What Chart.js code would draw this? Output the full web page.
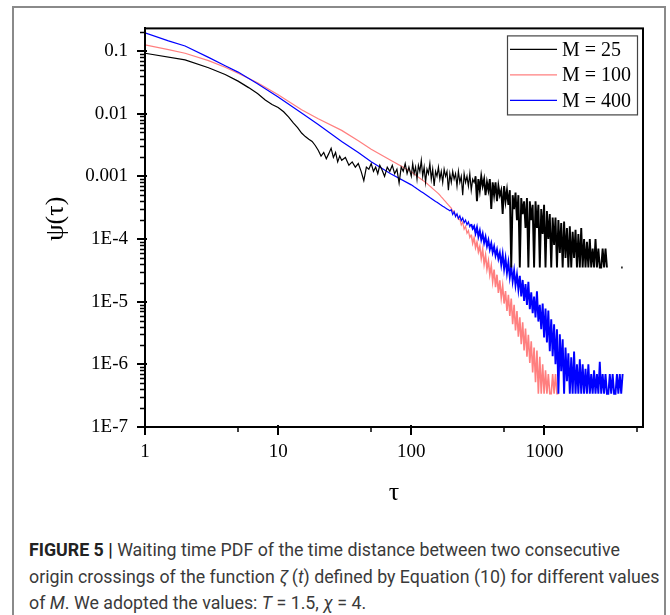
<!DOCTYPE html>
<html><head><meta charset="utf-8">
<script src="https://cdn.jsdelivr.net/npm/chart.js@4.4.1/dist/chart.umd.min.js"></script>
<style>
html,body{margin:0;padding:0;background:#fff;}
#wrap{position:relative;width:670px;height:615px;overflow:hidden;background:#fff;}
#frame{position:absolute;left:12px;top:6px;width:654px;height:640px;border:2px solid #8a8a8a;box-sizing:border-box;}
#c{position:absolute;left:0;top:0;}
#cap{position:absolute;left:29px;top:537px;width:636px;font-family:"Roboto","Liberation Sans",sans-serif;font-size:17.8px;line-height:26.5px;color:#3a3a3a;white-space:nowrap;letter-spacing:0;}
#cap b{color:#222;}
</style></head>
<body><div id="wrap">
<div id="frame"></div>
<canvas id="c" width="670" height="520"></canvas>
<div id="cap"><b>FIGURE 5 |</b> Waiting time PDF of the time distance between two consecutive<br>origin crossings of the function <i>ζ</i>&thinsp;(<i>t</i>) defined by Equation (10) for different values<br>of <i>M</i>. We adopted the values: <i>T</i> = 1.5, <i>χ</i> = 4.</div>
</div>
<script>
// ---------- data ----------
const seriesLabels = ['M = 25', 'M = 100', 'M = 400'];

// low-τ part of each curve
const tau25Head = [1,2,3,4,5,6,7,8,9,10,11,12,13,14,15,16,17,18,19,20,
 21,22,23,24,25,26,27,28,29,30,32,34,36,38,40,42,44,46,48,50,52,54,56,58,60,63,66,69,72,75,78,81,84,87,90,93,96];
const psi25Head = [0.092,0.072,0.054,0.042,0.033,0.026,0.021,0.0165,0.014,0.0125,0.0107,0.0088,0.0071,0.0060,0.0049,0.0043,0.0039,0.0036,0.0031,0.0026,
 0.0021,0.0024,0.0019,0.0023,0.0028,0.0020,0.0024,0.0017,0.0021,0.0018,
 0.0020,0.0015,0.0017,0.0014,0.0016,0.0012,0.00085,0.0014,0.0013,0.0016,0.0012,0.0014,0.0011,0.0015,0.0013,
 0.0010,0.0014,0.0012,0.0015,0.0011,0.0013,0.00078,0.0014,0.0012,0.0016,0.0011,0.0014];

const tau100Head = [1,1.5,2,3,4,5,7,10,15,20,30,40,50,70];
const psi100Head = [0.125,0.105,0.092,0.070,0.055,0.044,0.031,0.020,0.0115,0.0083,0.0054,0.0037,0.0027,0.0018];

const tau400Head = [1,1.5,2,3,4,5,7,10,15,20,30,40,50,70];
const psi400Head = [0.195,0.145,0.12,0.079,0.058,0.046,0.030,0.0185,0.0102,0.0067,0.0036,0.0024,0.0017,0.00110];

// high-τ part, on a shared τ grid
const tauTail = [100,102.5,105,107.7,110.4,113.1,116,118.9,121.8,124.9,
 128,131.2,134.5,137.9,141.3,144.8,148.5,152.2,156,159.9,
 163.9,168,172.2,176.5,180.9,185.4,190,194.8,199.7,204.7,
 209.8,215,220.4,225.9,231.6,237.4,243.3,249.4,255.6,262,
 268.5,275.2,282.1,289.2,296.4,303.8,311.4,319.2,327.2,335.4,
 343.8,352.4,361.2,370.2,379.5,388.9,398.7,408.6,418.8,429.3,
 440.1,451.1,462.3,473.9,485.7,497.9,510.3,523.1,536.2,549.6,
 563.3,577.4,591.8,606.6,621.8,637.4,653.3,669.6,686.4,703.5,
 721.1,739.1,757.6,776.6,796,815.9,836.3,857.2,878.6,900.6,
 923.1,946.2,969.9,994.1,1019,1044,1070,1097,1125,1153,
 1182,1211,1242,1273,1305,1337,1371,1405,1440,1476,
 1513,1551,1590,1629,1670,1712,1755,1799,1844,1890,
 1937,1985,2035,2086,2138,2192,2246,2303,2360,2419,
 2480,2542,2605,2670,2737,2806,2876,2948,3021,3097,
 3174,3254,3335,3418,3504,3591,3681,3773,3867];

const psi25Tail = [0.0010,0.0016,0.0011,0.0014,0.0009,0.0015,0.0012,0.0018,0.0010,0.0014,
 0.0008,0.0013,0.0011,0.0016,0.0009,0.0013,0.0007,0.0012,0.0010,0.0014,
 0.0009,0.0012,0.0008,0.0013,0.0010,0.0012,0.0006,0.0011,0.0008,0.0012,
 0.0009,0.0011,0.0007,0.0012,0.0008,0.0010,0.0005,0.0011,0.0008,0.0010,
 0.0007,0.0011,0.0006,0.0009,0.0008,0.0010,0.0004,0.0009,0.0006,0.0010,
 0.0007,0.0009,0.0005,0.0008,0.0006,0.0009,0.0003,0.0008,0.0005,0.0008,
 0.0004,0.0007,0.0005,0.0006,0.00025,0.0007,0.0004,0.0006,0.00035,0.0006,
 0.000035,0.0005,0.0003,0.00055,0.0002,0.0005,0.000035,0.00045,0.00025,0.0004,
 0.00015,0.00045,0.000035,0.0004,0.0002,0.00035,0.000035,0.0004,0.00015,0.00035,
 0.000035,0.0003,0.00012,0.00035,0.000035,0.00028,0.0001,0.00025,0.000035,0.00022,
 0.00008,0.00022,0.000035,0.0002,0.00006,0.00018,0.000035,0.00019,0.00005,0.00015,
 0.000035,0.00016,0.000035,0.00013,0.00005,0.00014,0.000035,0.00012,0.000035,0.00015,
 0.000035,0.0001,0.000035,0.00009,0.000035,0.0001,0.000035,0.00007,0.000035,0.0001,
 0.000035,0.00007,0.000035,0.000035,0.00007,0.000035,0.00007,0.000035,null,null,
 null,null,null,null,null,null,null,0.000035,0.000035];

const psi100Tail = [1.18e-3,1.14e-3,1.09e-3,1.05e-3,1.01e-3,9.70e-4,9.33e-4,8.97e-4,8.63e-4,8.30e-4,
 7.98e-4,7.66e-4,7.31e-4,6.98e-4,6.67e-4,6.37e-4,6.08e-4,5.81e-4,5.55e-4,5.30e-4,
 4.99e-4,4.70e-4,4.44e-4,4.18e-4,3.94e-4,3.71e-4,3.49e-4,3.29e-4,3.10e-4,2.75e-4,
 2.80e-4,2.37e-4,2.41e-4,2.04e-4,2.08e-4,1.67e-4,1.86e-4,1.43e-4,1.59e-4,1.23e-4,
 1.36e-4,1.05e-4,1.17e-4,8.57e-5,1.04e-4,7.31e-5,8.89e-5,6.24e-5,7.59e-5,4.90e-5,
 6.76e-5,3.98e-5,5.50e-5,3.31e-5,4.47e-5,2.69e-5,3.72e-5,2.09e-5,3.24e-5,1.70e-5,
 2.69e-5,1.38e-5,2.19e-5,1.15e-5,1.78e-5,9.33e-6,1.48e-5,7.08e-6,1.29e-5,5.89e-6,
 1.12e-5,4.37e-6,8.91e-6,3.47e-6,7.08e-6,2.75e-6,5.62e-6,2.09e-6,4.68e-6,1.66e-6,
 3.72e-6,1.32e-6,2.95e-6,1.05e-6,2.34e-6,7.41e-7,1.86e-6,5.2e-7,1.66e-6,3.4e-7,
 1.32e-6,3.4e-7,1.0e-6,3.4e-7,8.0e-7,3.4e-7,7.0e-7,3.4e-7,3.4e-7,7.0e-7,
 3.4e-7,7.0e-7,3.4e-7,3.4e-7];

const psi400Tail = [7.30e-4,7.05e-4,6.79e-4,6.56e-4,6.32e-4,6.11e-4,5.89e-4,5.69e-4,5.50e-4,5.30e-4,
 5.11e-4,4.93e-4,4.75e-4,4.58e-4,4.43e-4,4.28e-4,4.12e-4,3.97e-4,3.84e-4,3.70e-4,
 3.57e-4,3.46e-4,3.34e-4,3.23e-4,3.12e-4,3.02e-4,2.92e-4,2.82e-4,2.93e-4,2.46e-4,
 2.72e-4,2.28e-4,2.52e-4,2.12e-4,2.34e-4,1.96e-4,2.17e-4,1.82e-4,2.01e-4,1.69e-4,
 1.87e-4,1.57e-4,1.73e-4,1.46e-4,1.60e-4,1.23e-4,1.53e-4,1.09e-4,1.36e-4,9.73e-5,
 1.21e-4,8.65e-5,1.08e-4,7.69e-5,9.57e-5,6.85e-5,8.51e-5,6.10e-5,7.57e-5,5.42e-5,
 6.75e-5,4.82e-5,6.00e-5,3.89e-5,5.71e-5,3.34e-5,4.91e-5,2.88e-5,4.23e-5,2.47e-5,
 3.64e-5,2.13e-5,3.13e-5,1.83e-5,2.69e-5,1.57e-5,2.59e-5,1.21e-5,2.22e-5,1.03e-5,
 1.91e-5,8.87e-6,2.07e-5,7.60e-6,1.41e-5,6.53e-6,1.21e-5,5.61e-6,1.46e-5,4.81e-6,
 8.89e-6,3.63e-6,9.33e-6,2.69e-6,7.76e-6,2.24e-6,7.24e-6,1.62e-6,5.25e-6,1.35e-6,
 4.37e-6,1.0e-6,3.63e-6,3.4e-7,3.02e-6,7.76e-7,2.51e-6,3.4e-7,1.86e-6,5.4e-7,
 1.5e-6,3.4e-7,1.3e-6,3.4e-7,1.6e-6,3.4e-7,1.0e-6,3.4e-7,1.2e-6,3.4e-7,
 1.0e-6,3.4e-7,8.5e-7,3.4e-7,1.0e-6,3.4e-7,7.0e-7,3.4e-7,8.0e-7,3.4e-7,
 7.0e-7,3.4e-7,1.1e-6,3.4e-7,7.0e-7,3.4e-7,7.0e-7,3.4e-7,3.4e-7,7.0e-7,
 3.4e-7,7.0e-7,3.4e-7,3.4e-7,7.0e-7,3.4e-7,7.0e-7,3.4e-7,7.0e-7];

const xMajorTicks = [1, 10, 100, 1000];
const xMajorLabels = ['1', '10', '100', '1000'];
const xMinorTicks = [5, 50, 500, 5000];
const yMajorTicks = [1e-7, 1e-6, 1e-5, 1e-4, 1e-3, 1e-2, 1e-1];
const yMajorLabels = ['1E-7', '1E-6', '1E-5', '1E-4', '0.001', '0.01', '0.1'];
const yMinorMultipliers = [2,3,4,5,6,7,8,9];
const xRange = [1, 5500];
const yRange = [1e-7, 0.229];
const xTitle = 'τ';
const yTitle = 'ψ(τ)';

// ---------- chart ----------
const SERIF = '"Liberation Serif","Times New Roman",serif';
const colors = ['#000000', '#ff7f7f', '#0000ff'];
const pts = (headT, headV, tailV) => {
  const out = headT.map((x, i) => ({x: x, y: headV[i]}));
  tailV.forEach((v, i) => out.push({x: tauTail[i], y: v}));
  return out;
};
// thin line for the smooth part, denser stroke where the curve turns noisy
const noisyWidth = (thin, thick, from) => ({borderWidth: c => (c.p0.parsed.x >= from ? thick : thin)});

const yMinorTicks = [];
yMajorTicks.forEach(d => yMinorMultipliers.forEach(m => { const v = d * m; if (v <= yRange[1]) yMinorTicks.push(v); }));

const tickPlugin = {
  id: 'ticksFrame',
  afterDraw(chart) {
    const {ctx, chartArea: a, scales: {x, y}} = chart;
    ctx.save();
    ctx.strokeStyle = '#000';
    ctx.lineWidth = 2;
    ctx.strokeRect(a.left, a.top, a.right - a.left, a.bottom - a.top);
    ctx.lineWidth = 1.3;
    ctx.beginPath();
    yMinorTicks.forEach(v => { const p = Math.round(y.getPixelForValue(v)) + 0.5; ctx.moveTo(a.left - 5, p); ctx.lineTo(a.left, p); });
    ctx.stroke();
    ctx.lineWidth = 2;
    ctx.beginPath();
    yMajorTicks.forEach(v => { const p = Math.round(y.getPixelForValue(v)); ctx.moveTo(a.left - 8, p); ctx.lineTo(a.left + 2, p); });
    xMajorTicks.forEach(v => { const p = Math.round(x.getPixelForValue(v)); ctx.moveTo(p, a.bottom - 2); ctx.lineTo(p, a.bottom + 8); });
    ctx.stroke();
    ctx.lineWidth = 1.5;
    ctx.beginPath();
    xMinorTicks.forEach(v => { const p = Math.round(x.getPixelForValue(v)); ctx.moveTo(p, a.bottom); ctx.lineTo(p, a.bottom + 5); });
    ctx.stroke();
    // y axis title
    ctx.save();
    ctx.translate(56, (a.top + a.bottom) / 2 - 9);
    ctx.rotate(-Math.PI / 2);
    ctx.font = '26px ' + SERIF;
    ctx.fillStyle = '#000';
    ctx.textAlign = 'center';
    ctx.textBaseline = 'middle';
    ctx.fillText(yTitle, 0, 0);
    ctx.restore();
    // legend
    const lw = 130, lh = 79;
    const lx = a.right - 136, ly = a.top + 7;
    ctx.fillStyle = '#fff';
    ctx.fillRect(lx, ly, lw, lh);
    ctx.lineWidth = 1.2;
    ctx.strokeStyle = '#444';
    ctx.strokeRect(lx + 0.5, ly + 0.5, lw, lh);
    ctx.font = '20px ' + SERIF;
    ctx.textBaseline = 'middle';
    ctx.textAlign = 'left';
    chart.data.datasets.forEach((ds, i) => {
      const yy = ly + 14 + i * 25.5;
      ctx.strokeStyle = ds.borderColor;
      ctx.lineWidth = 1.2;
      ctx.beginPath(); ctx.moveTo(lx + 3, yy); ctx.lineTo(lx + 50, yy); ctx.stroke();
      ctx.fillStyle = '#000';
      ctx.fillText(ds.label, lx + 55, yy + 1);
    });
    ctx.restore();
  }
};

new Chart(document.getElementById('c'), {
  type: 'scatter',
  data: {
    datasets: [
      {label: seriesLabels[0], data: pts(tau25Head, psi25Head, psi25Tail), borderColor: colors[0], backgroundColor: colors[0], showLine: true, pointRadius: 0, borderWidth: 1.2, segment: noisyWidth(1.2, 1.9, 300), order: 1, spanGaps: false},
      {label: seriesLabels[1], data: pts(tau100Head, psi100Head, psi100Tail), borderColor: colors[1], backgroundColor: colors[1], showLine: true, pointRadius: 0, borderWidth: 1.2, segment: noisyWidth(1.2, 1.6, 280), order: 3},
      {label: seriesLabels[2], data: pts(tau400Head, psi400Head, psi400Tail), borderColor: colors[2], backgroundColor: colors[2], showLine: true, pointRadius: 0, borderWidth: 1.2, segment: noisyWidth(1.2, 1.9, 280), order: 2}
    ]
  },
  options: {
    responsive: false, animation: false, devicePixelRatio: 1,
    layout: {padding: {left: 0, top: 27, right: 27, bottom: 0}},
    plugins: {legend: {display: false}, tooltip: {enabled: false}},
    scales: {
      x: {
        type: 'logarithmic', min: xRange[0], max: xRange[1],
        afterBuildTicks: s => { s.ticks = xMajorTicks.map(v => ({value: v})); },
        afterFit: s => { s.height = 93; },
        ticks: {autoSkip: false, maxRotation: 0, padding: 14, color: '#000', font: {family: SERIF, size: 19},
          callback: (v) => { const i = xMajorTicks.indexOf(v); return i >= 0 ? xMajorLabels[i] : ''; }},
        grid: {drawOnChartArea: false, drawTicks: false},
        border: {display: true, color: '#000', width: 2},
        title: {display: true, text: xTitle, color: '#000', font: {family: SERIF, size: 26}, padding: {top: 0, bottom: 11}}
      },
      y: {
        type: 'logarithmic', min: yRange[0], max: yRange[1],
        afterBuildTicks: s => { s.ticks = yMajorTicks.map(v => ({value: v})); },
        afterFit: s => { s.width = 145; },
        ticks: {autoSkip: false, padding: 17, color: '#000', font: {family: SERIF, size: 19},
          callback: (v) => { const i = yMajorTicks.findIndex(t => Math.abs(t - v) / t < 1e-6); return i >= 0 ? yMajorLabels[i] : ''; }},
        grid: {drawOnChartArea: false, drawTicks: false},
        border: {display: true, color: '#000', width: 2},
        title: {display: false, text: yTitle}
      }
    }
  },
  plugins: [tickPlugin]
});
</script>
</body></html>
